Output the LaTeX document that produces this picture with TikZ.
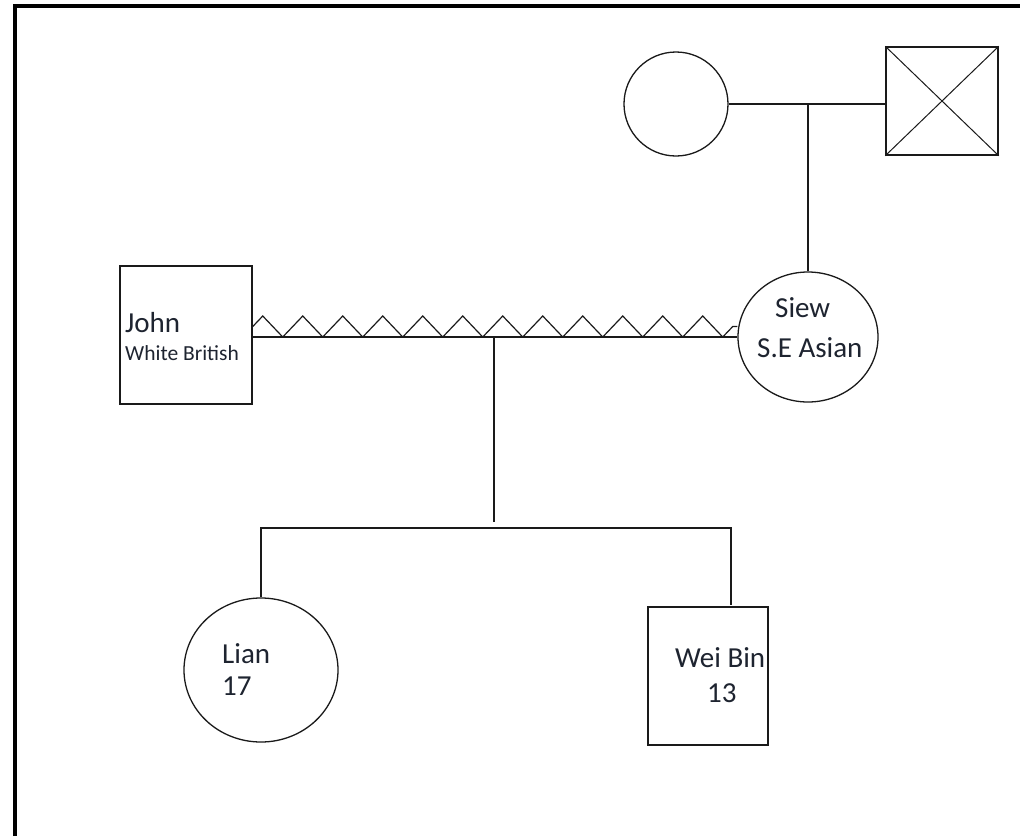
\documentclass[tikz,border=0pt]{standalone}
\usepackage{fontspec}
\setmainfont{Carlito}
\usetikzlibrary{shapes.geometric,decorations.pathmorphing}
\definecolor{GenoLine}{HTML}{1A1A1A}
\definecolor{GenoText}{HTML}{1E2430}

\begin{document}
\begin{tikzpicture}[
  x=1pt,y=-1pt,
  link/.style={draw=GenoLine,line width=1.5pt},
  male/.style={draw=GenoLine,line width=1.5pt,rectangle,inner sep=0pt},
  female/.style={draw=GenoLine,line width=1.3pt,ellipse,inner sep=0pt},
  conflict/.style={draw=GenoLine,line width=1.2pt,decorate,
    decoration={zigzag,segment length=40pt,amplitude=10.5pt}},
  personlabel/.style={anchor=base west,inner sep=0pt,text=GenoText,
    font=\fontsize{29}{32}\selectfont},
  detail/.style={personlabel,font=\fontsize{21.5}{24}\selectfont}
]
\useasboundingbox (0,0) rectangle (1020,836);
\fill[white] (0,0) rectangle (1020,836);

% frame, only top and left edges are visible
\draw[line width=4pt] (15,836) -- (15,6) -- (1020,6);

% grandparents
\node[female,minimum width=104pt,minimum height=104pt] (gm) at (676,104) {};
\node[male,minimum width=112pt,minimum height=108pt] (gf) at (942,101) {};
\draw[link,line width=1pt] (gf.north west) -- (gf.south east);
\draw[link,line width=1pt] (gf.south west) -- (gf.north east);
\draw[link] (gm.east) -- (gf.west |- gm.east);
\coordinate (gj) at (808,104);

% parents
\node[male,minimum width=132pt,minimum height=138pt] (john) at (186,335) {};
\node[personlabel] (johnname) at (125,332) {John};
\node[detail] (johnorigin) at (125,360) {White British};
\node[female,minimum width=140pt,minimum height=130pt] (siew) at (808,337) {};
\node[personlabel] (siewname) at (775,317) {Siew};
\node[personlabel] (sieworigin) at (757,357) {S.E Asian};
\draw[link] (gj) -- (siew.north);
\draw[link] (john.east |- siew.west) -- (siew.west);
\draw[conflict] ([yshift=10.5pt]john.east |- siew.west) -- ([yshift=10.5pt]siew.west);

% children
\coordinate (cj) at (494,337);
\coordinate (bar) at (494,528);
\node[female,minimum width=154pt,minimum height=144pt] (lian) at (261,670) {};
\node[personlabel] (lianname) at (222,663) {Lian};
\node[personlabel] (lianage) at (222,695) {17};
\node[male,minimum width=120pt,minimum height=138pt] (wei) at (708,676) {};
\node[personlabel] (weiname) at (675,667) {Wei Bin};
\node[personlabel] (weiage) at (707,702) {13};
\coordinate (weitop) at (731,605);
\draw[link] (cj) -- ([yshift=6pt]bar);
\draw[link] (lian.north) -- (lian.north |- bar) -- (weitop |- bar) -- (weitop);

\end{tikzpicture}
\end{document}
